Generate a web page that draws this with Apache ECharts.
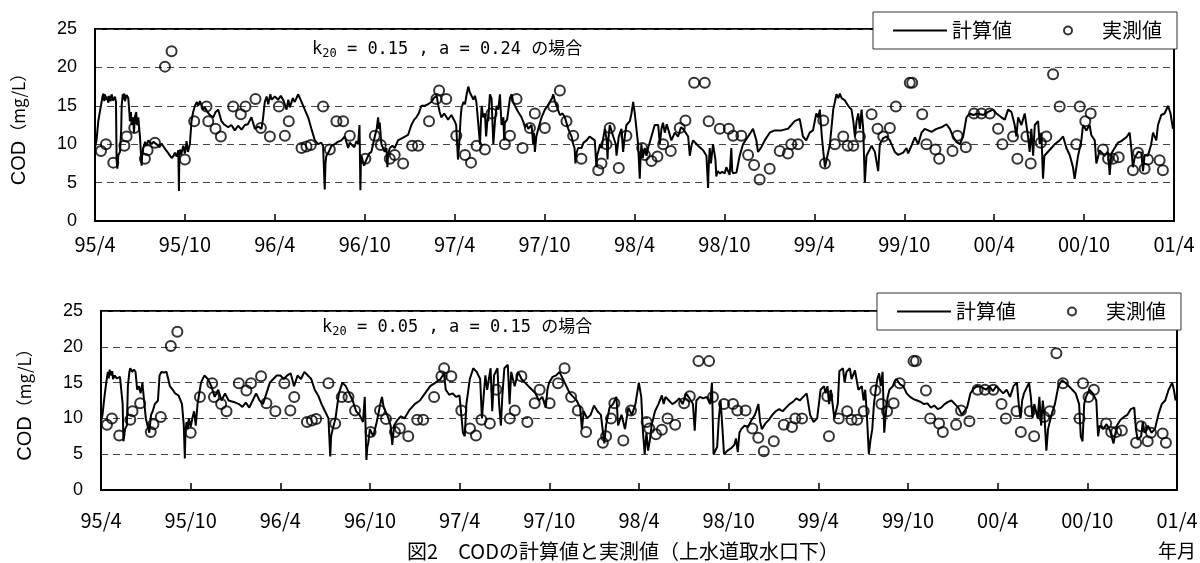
<!DOCTYPE html>
<html>
<head>
<meta charset="utf-8">
<script src="https://cdn.jsdelivr.net/npm/echarts@6/dist/echarts.min.js"></script>
<style>
html,body{margin:0;padding:0;background:#fff;}
#chart{width:1200px;height:563px;}
</style>
</head>
<body>
<div id="chart"></div>
<script>
// x values are months elapsed since 1995/4
const tickLabels = ['95/4','95/10','96/4','96/10','97/4','97/10','98/4','98/10','99/4','99/10','00/4','00/10','01/4'];

// 計算値 (k20=0.15, a=0.24)
const calcTop = [
[0,9.5],[0.1,10.5],[0.22,13],[0.35,14.5],[0.44,15.5],[0.5,16.2],[0.56,16.6],[0.62,15.6],[0.67,16.5],[0.72,15.8],[0.78,16.2],[0.89,15.4],[0.95,16.3],[1.05,15.6],[1.11,16.5],[1.2,15.7],[1.33,16.2],[1.4,15.5],[1.44,8.0],[1.49,6.8],[1.56,8.6],[1.67,9.0],[1.75,12],[1.78,15],[1.85,16.5],[1.89,15.8],[1.95,16.6],[2.0,15.6],[2.1,16.4],[2.22,16.0],[2.3,14],[2.33,13],[2.4,14.2],[2.44,12.5],[2.55,13.5],[2.6,11.5],[2.67,13.6],[2.75,14.2],[2.8,12.5],[2.89,13.5],[2.95,12],[3.0,11],[3.11,7.2],[3.15,8.5],[3.22,9.5],[3.35,10.3],[3.45,9.8],[3.56,10.5],[3.78,10.0],[3.9,10.3],[4.11,10.0],[4.3,9.6],[4.44,10.1],[4.67,9.4],[4.9,8.8],[5.11,8.2],[5.25,8.5],[5.33,8.9],[5.45,8.4],[5.56,9.2],[5.6,3.9],[5.63,8.5],[5.67,9.3],[5.75,8.6],[5.89,9.8],[6.0,8.8],[6.11,10.4],[6.2,9.0],[6.33,10.0],[6.44,13],[6.55,14.2],[6.67,15.0],[6.8,15.5],[6.89,15.0],[7.0,15.6],[7.11,15.4],[7.22,14.5],[7.33,14.8],[7.5,14.2],[7.67,13.8],[7.89,13.5],[8.05,14.2],[8.22,14.5],[8.44,13.0],[8.6,12.6],[8.89,12.2],[9.1,12.5],[9.33,11.8],[9.55,12.4],[9.78,11.9],[10.0,12.5],[10.2,12.6],[10.44,13.5],[10.67,12.0],[10.9,12.3],[11.11,12.0],[11.22,13.5],[11.33,15.5],[11.45,16.2],[11.56,15.2],[11.7,16.5],[11.78,15.8],[12.0,16.2],[12.22,15.8],[12.4,16.3],[12.6,15.6],[12.78,14.5],[12.9,15.8],[13.0,14.8],[13.2,16],[13.33,15.5],[13.56,16.5],[13.78,15.5],[14.0,14.5],[14.22,13.5],[14.44,12.0],[14.67,10.5],[14.89,10.0],[15.1,10.2],[15.22,9.8],[15.33,4.1],[15.38,7.5],[15.44,8.5],[15.6,9.0],[15.78,9.8],[16.0,10.0],[16.2,10.3],[16.44,10.5],[16.67,11.0],[16.89,9.5],[17.0,10.2],[17.11,10.0],[17.3,9.6],[17.45,10.4],[17.56,10.0],[17.65,12.5],[17.71,4.0],[17.74,7.5],[17.78,8.5],[17.95,7.2],[18.11,8.0],[18.3,8.8],[18.44,9.0],[18.67,11.0],[18.8,12.0],[18.89,13.5],[18.95,12.0],[19.0,12.8],[19.11,10.0],[19.33,9.0],[19.45,9.5],[19.51,7.0],[19.55,8.5],[19.67,9.5],[19.85,9.8],[20.0,9.5],[20.22,10.5],[20.5,10.8],[20.89,11.2],[21.11,12.5],[21.3,13.2],[21.44,13.5],[21.6,14.0],[21.78,15.0],[22.0,15.0],[22.22,15.2],[22.44,15.5],[22.6,16.0],[22.67,15.8],[22.8,16.3],[22.89,15.2],[23.0,14.2],[23.11,13.5],[23.3,14.0],[23.56,13.2],[23.78,13.8],[24.0,13.0],[24.1,12.5],[24.22,8.0],
[24.3,10.0],[24.4,13.5],[24.46,14.8],[24.6,15.5],[24.69,15.2],[24.8,16.5],[24.91,17.5],[25.0,16.8],[25.13,16.6],[25.25,15.8],[25.35,16.3],[25.45,15.5],[25.58,15.6],[25.69,10.0],[25.75,13],[25.8,15.0],[25.9,13.5],[26.02,14.0],[26.1,11.0],[26.2,13.5],[26.24,13.0],[26.35,16.5],[26.46,16.0],[26.55,11.5],[26.58,10.0],[26.69,13],[26.8,15.0],[26.91,14.5],[27.02,16.5],[27.1,13.5],[27.13,12.5],[27.25,13.5],[27.3,10.5],[27.35,12.8],[27.5,13.2],[27.58,13.0],[27.69,16.0],[27.8,16.5],[27.9,15.5],[28.02,15.0],[28.24,14.2],[28.46,13.5],[28.6,12.8],[28.69,12.2],[28.8,12.6],[28.91,12.0],[29.13,12.5],[29.24,10.0],[29.3,11.5],[29.35,9.0],[29.45,11],[29.58,12.0],[29.8,13.5],[30.02,14.5],[30.2,15.0],[30.35,15.5],[30.5,16.0],[30.58,16.5],[30.7,15.5],[30.8,15.0],[31.02,13.8],[31.2,14.0],[31.35,13.5],[31.58,12.0],[31.8,11.0],[31.91,10.0],[32.0,9.5],[32.06,7.5],[32.15,9.0],[32.24,9.5],[32.46,9.5],[32.6,10.2],[32.8,10.5],[33.0,11.0],[33.13,11.0],[33.35,10.5],[33.46,7.0],[33.5,8.5],[33.58,9.0],[33.7,10.0],[33.8,9.5],[34.02,12.0],[34.15,10.5],[34.2,8.0],[34.25,10.5],[34.35,12.5],[34.58,11.0],[34.75,10],[34.8,8.5],[34.95,11.0],[35.13,12.0],[35.24,9.0],[35.35,11],[35.46,12.5],[35.69,13.0],[35.8,14],[35.91,15.5],[36.02,14.0],[36.13,12.0],[36.24,10.0],[36.35,5.5],[36.4,8.0],[36.46,10.0],[36.55,8.2],[36.69,9.5],[36.8,8.5],[36.91,9.5],[37.13,11.0],[37.35,12.5],[37.58,12.5],[37.69,10.0],[37.8,12.0],[37.9,12.8],[38.02,11.5],[38.15,12.6],[38.24,12.0],[38.46,10.5],[38.69,11.5],[38.91,11.0],[39.1,12.2],[39.24,12.0],[39.58,11.0],[39.69,8.5],[39.8,9.8],[39.91,10.5],[40.24,9.8],[40.58,9.2],[40.8,8.5],[40.91,4.3],[40.95,7.0],[41.02,9.5],[41.1,7.5],[41.24,10.0],[41.4,8.0],[41.46,5.8],[41.55,6.5],[41.69,6.2],[41.85,6.4],[42.02,6.2],[42.13,7.0],[42.35,6.0],[42.46,9.5],[42.52,6.5],[42.58,6.2],[42.8,6.3],[43.02,8.5],[43.24,10.0],[43.58,11.0],[43.91,12.0],[44.13,10.5],[44.24,9.0],[44.46,9.6],[44.69,10.5],[45.02,11.5],[45.35,11.8],[45.8,11.8],[46.24,12.0],[46.46,12.5],[46.69,13.0],[47.02,13.3],[47.1,12.5],[47.24,11.0],[47.46,10.5],[47.69,11.5],[47.91,11.8],[48.13,14.0],[48.25,13.5],
[48.37,14.5],[48.5,11],[48.6,9.0],[48.71,7.0],[48.82,7.2],[49.04,10.0],[49.26,14.5],[49.48,16.5],[49.6,16.0],[49.7,16.6],[49.82,16.0],[50.04,15.7],[50.26,15.0],[50.48,14.5],[50.6,13.0],[50.71,11.0],[50.82,13.0],[50.93,14.0],[51.04,12.0],[51.15,14.5],[51.26,12.0],[51.37,5.0],[51.48,8.5],[51.6,8.5],[51.82,9.8],[52.04,9.0],[52.26,6.5],[52.37,10.0],[52.6,10.8],[52.82,11.0],[53.04,10.5],[53.37,9.0],[53.6,8.6],[53.93,8.9],[54.15,9.5],[54.26,8.8],[54.48,9.8],[54.71,10.9],[54.93,10.0],[55.15,11.5],[55.37,12.0],[55.6,11.8],[55.82,11.6],[56.15,12.0],[56.48,12.2],[56.82,12.6],[57.04,12.0],[57.26,11.0],[57.48,10.3],[57.71,10.0],[57.93,11.0],[58.15,13.5],[58.37,14.0],[58.6,13.8],[58.93,14.0],[59.26,13.8],[59.6,14.2],[59.93,14.5],[60.15,14.0],[60.48,13.5],[60.71,13.2],[60.93,14.5],[61.15,14.2],[61.37,12.5],[61.48,11.0],[61.6,13.5],[61.82,12.5],[62.04,14.0],[62.26,11.0],[62.37,9.0],[62.48,12.0],[62.6,8.5],[62.71,12.5],[62.93,13.0],[63.04,10.0],[63.15,11.5],[63.26,5.5],[63.35,8.5],[63.48,8.5],[63.82,9.5],[64.04,10.0],[64.37,10.5],[64.6,11.0],[64.82,9.5],[65.04,8.6],[65.26,7.0],[65.37,5.5],[65.6,8.5],[65.82,10.5],[65.93,12.5],[66.15,11.8],[66.37,12.5],[66.48,11.2],[66.71,10.5],[66.82,7.5],[67.04,9.2],[67.37,8.5],[67.6,9.0],[67.71,6.0],[67.82,8.8],[68.04,9.5],[68.26,10.2],[68.48,10.4],[68.82,10.9],[69.04,11.5],[69.15,9.5],[69.26,7.0],[69.37,8.2],[69.6,9.0],[69.82,8.9],[69.93,6.5],[70.04,8.6],[70.26,8.5],[70.48,10.0],[70.6,11.5],[70.82,10.5],[70.93,12.5],[71.15,13.8],[71.37,14.0],[71.6,15.0],[71.77,14.0],[71.93,12.0]
];

// 計算値 (k20=0.05, a=0.15)
const calcBottom = [
[0,9.5],[0.1,10.5],[0.23,13.0],[0.35,15.0],[0.46,16.5],[0.52,15.6],[0.58,16.8],[0.69,16.0],[0.75,16.6],[0.81,15.5],[0.92,16.0],[1.05,15.6],[1.15,15.5],[1.27,15.8],[1.38,16.0],[1.45,12],[1.5,6.8],[1.61,8.5],[1.73,9.0],[1.8,14.5],[1.9,16.5],[1.96,17.0],[2.08,16.5],[2.2,16.8],[2.31,16.5],[2.42,14.0],[2.54,14.5],[2.65,13.5],[2.77,15.0],[2.88,12.5],[3.0,10.0],[3.23,8.0],[3.35,10.5],[3.46,11.0],[3.6,12.0],[3.81,12.5],[3.92,16.0],[4.04,16.5],[4.2,16.4],[4.38,16.5],[4.5,15.5],[4.61,14.5],[4.8,14.0],[4.96,13.5],[5.19,13.2],[5.31,13.0],[5.42,12.0],[5.54,9.0],[5.61,4.4],[5.65,8.0],[5.72,9.5],[5.8,8.5],[5.88,10.0],[6.0,8.8],[6.11,10.0],[6.23,11.0],[6.34,9.0],[6.46,12.0],[6.69,15.0],[6.92,16.0],[7.15,15.5],[7.38,14.5],[7.61,13.0],[7.84,14.0],[8.07,12.5],[8.3,13.5],[8.54,12.5],[8.88,12.3],[9.23,12.0],[9.46,11.6],[9.69,12.2],[9.92,11.5],[10.15,12.5],[10.38,13.5],[10.61,12.5],[10.84,12.0],[11.07,13.5],[11.3,15.0],[11.53,15.5],[11.76,16.0],[12.0,16.0],[12.23,15.5],[12.46,16.0],[12.69,16.3],[12.92,14.5],[13.15,16.0],[13.38,15.5],[13.61,16.5],[13.84,16.0],[14.07,15.5],[14.3,14.0],[14.53,13.2],[14.76,12.0],[14.99,11.0],[15.22,10.0],[15.34,4.7],[15.4,7.5],[15.5,8.5],[15.69,10.0],[15.92,13.5],[16.15,15.0],[16.38,14.5],[16.61,13.5],[16.84,12.5],[17.07,11.0],[17.3,10.5],[17.53,9.5],[17.65,13.0],[17.76,4.2],[17.82,6.0],[17.88,6.5],[17.99,8.5],[18.22,7.5],[18.45,9.5],[18.69,12.0],[18.8,13.0],[18.92,11.5],[19.15,10.5],[19.38,9.0],[19.49,6.3],[19.61,9.0],[19.84,9.8],[20.07,10.3],[20.3,10.0],[20.65,11.2],[20.99,12.0],[21.34,12.5],[21.68,13.5],[22.03,14.5],[22.38,15.0],[22.72,15.5],[22.95,16.3],[23.07,14.0],[23.3,13.3],[23.53,13.5],[23.76,13.0],[23.99,13.2],[24.11,13.0],[24.22,8.0],[24.34,7.5],[24.45,12.0],[24.68,15.5],[24.91,17.0],[25.14,16.5],[25.37,15.5],[25.49,10.0],[25.6,13],[25.72,16.0],[25.84,14.0],[26.07,17.0],[26.18,11.0],[26.3,16.0],[26.53,17.0],[26.64,12.0],[26.76,9.0],[26.85,13],[26.99,17.0],[27.22,17.5],[27.34,12.0],[27.45,16.5],[27.68,14.5],[27.91,16.5],[28.14,15.5],[28.37,15.0],[28.6,14.5],[28.84,14.0],[29.07,13.5],[29.3,12.5],[29.53,13.0],[29.76,11.5],[29.87,14.0],[29.99,15.0],[30.22,15.8],[30.45,16.0],[30.68,16.5],[30.91,15.5],[31.14,14.5],[31.37,13.5],[31.6,13.0],[31.83,12.5],[32.06,11.5],[32.18,8.5],[32.3,11.0],[32.53,10.0],[32.76,10.5],[32.99,11.8],[33.22,11.0],[33.45,10.5],[33.68,6.5],[33.79,9.0],[34.03,11.5],[34.26,12.0],[34.49,13.0],[34.6,9.0],[34.83,10.5],[35.06,8.5],[35.29,11.5],[35.52,10.5],[35.76,12.0],[35.99,15.0],
[36.15,13.0],[36.27,8.0],[36.38,5.0],[36.5,8.0],[36.61,5.5],[36.73,7.0],[36.84,9.0],[37.07,11.0],[37.3,12.0],[37.53,13.2],[37.65,12.0],[37.77,13.0],[38.0,12.5],[38.23,12.0],[38.46,12.3],[38.69,12.8],[38.92,12.0],[39.15,13.5],[39.38,12.8],[39.61,12.0],[39.73,8.3],[39.84,12.5],[40.07,13.0],[40.3,12.8],[40.53,13.0],[40.76,12.0],[40.88,15.0],[40.99,5.0],[41.11,5.2],[41.23,6.0],[41.34,10.0],[41.46,12.5],[41.57,9.0],[41.69,5.0],[41.8,4.9],[41.92,5.5],[42.15,5.8],[42.38,6.3],[42.49,7.2],[42.61,5.3],[42.72,8.0],[42.84,8.5],[43.07,9.0],[43.3,8.8],[43.53,9.8],[43.76,10.5],[43.99,12.0],[44.11,9.5],[44.22,8.5],[44.46,9.3],[44.69,9.8],[44.92,10.5],[45.15,11.0],[45.38,11.3],[45.61,11.0],[45.84,11.5],[46.07,12.0],[46.3,12.3],[46.53,12.8],[46.76,12.5],[46.99,13.0],[47.22,13.5],[47.45,10.5],[47.68,9.5],[47.92,10.0],[48.15,14.0],[48.38,14.5],[48.49,13.5],[48.61,14.5],[48.72,12.0],[48.84,14.0],[49.07,10.0],[49.3,12.0],[49.41,16.6],[49.65,17.0],[49.76,15.0],[49.88,16.5],[50.11,17.0],[50.22,15.5],[50.45,16.7],[50.68,14.0],[50.91,14.5],[51.03,12.5],[51.14,14.0],[51.26,10.0],[51.38,5.0],[51.49,7.0],[51.61,8.5],[51.72,12.0],[51.84,14.0],[51.95,15.5],[52.07,16.3],[52.18,14.5],[52.3,16.5],[52.41,8.0],[52.53,11.0],[52.64,13.0],[52.76,14.0],[52.99,14.5],[53.11,15.2],[53.22,15.5],[53.45,14.8],[53.68,14.5],[53.91,13.5],[54.14,13.0],[54.37,12.7],[54.61,12.5],[54.84,12.3],[55.07,12.0],[55.3,12.1],[55.53,11.5],[55.76,11.8],[55.99,11.3],[56.22,11.5],[56.45,12.0],[56.68,12.3],[56.91,12.5],[57.14,12.0],[57.37,11.5],[57.6,10.5],[57.72,10.3],[57.95,11.5],[58.18,13.5],[58.41,14.2],[58.64,14.5],[58.99,14.3],[59.22,14.0],[59.45,14.5],[59.68,13.8],[59.91,14.5],[60.14,14.0],[60.37,13.5],[60.6,14.0],[60.83,13.0],[61.06,14.5],[61.29,15.0],[61.41,12.0],[61.53,10.0],[61.64,12.5],[61.76,13.5],[61.99,14.5],[62.1,15.0],[62.22,13.0],[62.33,10.0],[62.45,12.0],[62.68,10.0],[62.79,13.0],[62.91,9.0],[63.02,12.5],[63.14,10.0],[63.26,5.5],[63.37,8.5],[63.6,10.5],[63.83,12.0],[64.06,14.5],[64.29,15.3],[64.52,15.0],[64.76,14.5],[64.99,14.0],[65.22,13.5],[65.45,12.0],[65.56,7.5],[65.68,6.8],[65.79,12.0],[65.91,13.0],[66.14,14.0],[66.37,13.5],[66.6,12.5],[66.72,7.5],[66.83,9.0],[67.06,8.5],[67.29,9.2],[67.52,8.3],[67.75,6.5],[67.98,9.0],[68.22,9.8],[68.45,10.2],[68.68,10.5],[68.91,11.3],[69.14,11.5],[69.25,8.5],[69.37,7.0],[69.6,7.5],[69.71,9.5],[69.83,8.0],[70.06,9.0],[70.29,8.0],[70.52,8.5],[70.75,10.5],[70.98,12.0],[71.21,12.5],[71.44,14.0],[71.68,15.0],[71.79,14.0],[71.91,12.5]
];

// 実測値 (same observations in both panels)
const measured = [
[0.40,9.1],[0.73,10.0],[1.22,7.6],[1.96,9.8],[2.11,11.0],[2.62,12.1],[3.33,8.1],[3.51,9.2],[4.0,10.2],[4.67,20.1],[5.11,22.1],[6.0,8.0],[6.62,13.0],[7.44,14.9],[7.56,13.0],[8.04,12.0],[8.4,11.0],[9.22,14.9],[9.73,13.9],[10.04,14.9],[10.71,15.9],[11.07,12.1],[11.67,11.0],[12.27,14.9],[12.67,11.1],[12.93,13.0],[13.78,9.5],[14.11,9.7],[14.4,9.9],[15.22,14.9],[15.67,9.3],[16.11,13.0],[16.56,13.0],[17.0,11.1],[18.04,8.1],[18.67,11.1],[19.07,9.9],[19.67,8.1],[20.0,8.6],[20.56,7.5],[21.16,9.8],[21.56,9.8],[22.29,13.0],[22.78,15.9],[22.96,17.0],[23.44,15.9],[24.11,11.1],[24.69,8.6],[25.09,7.6],[25.46,9.8],[26.02,9.3],[26.46,14.0],[27.35,10.0],[27.69,11.1],[28.13,15.9],[28.53,9.5],[29.02,12.1],[29.35,14.0],[30.02,12.1],[30.58,14.9],[31.02,17.0],[31.46,13.0],[31.91,11.1],[32.46,8.1],[33.58,6.6],[33.8,7.5],[34.13,10.0],[34.35,12.1],[34.95,6.9],[35.46,11.1],[36.51,9.5],[36.69,8.6],[37.13,7.8],[37.53,8.4],[37.91,10.0],[38.42,9.1],[39.02,12.1],[39.4,13.1],[39.98,18.0],[40.69,18.0],[40.95,13.0],[41.69,12.0],[42.29,12.0],[42.58,11.1],[43.13,11.1],[43.58,8.6],[43.98,7.3],[44.35,5.4],[45.02,6.8],[45.69,9.1],[46.24,8.8],[46.46,10.0],[46.91,10.0],[48.6,13.1],[48.71,7.5],[49.37,10.0],[49.93,11.0],[50.22,9.8],[50.6,9.8],[51.04,11.0],[51.82,13.9],[52.22,12.0],[52.6,11.0],[53.04,12.1],[53.44,14.9],[54.37,18.0],[54.53,18.0],[55.2,13.9],[55.48,10.0],[56.08,9.3],[56.33,8.1],[57.22,9.1],[57.55,11.1],[58.11,9.6],[58.66,14.0],[59.15,14.0],[59.71,14.0],[60.26,12.0],[60.55,10.0],[61.26,11.0],[61.55,8.1],[62.15,11.0],[62.44,7.5],[63.11,10.2],[63.48,11.0],[63.93,19.1],[64.37,14.9],[65.48,10.0],[65.71,14.9],[66.08,13.0],[66.44,14.0],[67.26,9.3],[67.6,8.1],[67.93,8.1],[68.31,8.3],[69.26,6.6],[69.6,8.9],[70.04,6.8],[70.26,8.0],[71.04,7.9],[71.26,6.6]
];

const seriesNames = ['計算値', '実測値'];
const annotations = ['{k|k}{s|20}{t| = 0.15 , a = 0.24 の場合}', '{k|k}{s|20}{t| = 0.05 , a = 0.15 の場合}'];
const figTitle = '図2　CODの計算値と実測値（上水道取水口下）';
const xUnit = '年月';

const jp = "'Noto Sans CJK JP', sans-serif";
const mono = "'DejaVu Sans Mono', 'Noto Sans CJK JP', monospace";
const sans = "'Liberation Sans', Arial, sans-serif";

const chart = echarts.init(document.getElementById('chart'), null, {renderer: 'canvas'});

function grid(left, top, width, height) {
  return {left, top, width, height, show: true, borderColor: '#000', borderWidth: 2,
          backgroundColor: 'transparent', containLabel: false, outerBoundsMode: 'none'};
}
function xAxis(idx, margin) {
  return {
    type: 'value', gridIndex: idx, min: 0, max: 72, interval: 6,
    axisLine: {show: true, lineStyle: {color: '#000', width: 2}},
    axisTick: {show: true, inside: true, length: 7, lineStyle: {color: '#000', width: 1.5}},
    splitLine: {show: false},
    axisLabel: {margin, color: '#000', fontSize: 20, fontFamily: jp,
                formatter: v => tickLabels[Math.round(v / 6)]}
  };
}
function yAxis(idx) {
  return {
    type: 'value', gridIndex: idx, min: 0, max: 25, interval: 5,
    axisLine: {show: true, lineStyle: {color: '#000', width: 2}},
    axisTick: {show: false},
    splitLine: {show: true, lineStyle: {color: '#444', width: 1, type: [7, 5]}},
    axisLabel: {margin: 18, color: '#000', fontSize: 18, fontFamily: sans},
    name: '{a|COD}{b|（mg/L）}', nameLocation: 'middle', nameGap: 66, nameRotate: 90,
    nameTextStyle: {color: '#000', rich: {
      a: {fontSize: 20, fontFamily: sans, color: '#000'},
      b: {fontSize: 17, fontFamily: jp, color: '#000'}
    }}
  };
}
function legend(left, top) {
  return {
    left, top, orient: 'horizontal', itemWidth: 54, itemHeight: 8, itemGap: 51,
    padding: [8, 15, 8, 20], borderColor: '#333', borderWidth: 1, backgroundColor: '#fff',
    borderRadius: 0, symbolKeepAspect: true,
    textStyle: {fontSize: 20, fontFamily: jp, color: '#000', lineHeight: 21},
    data: [
      {name: seriesNames[0], icon: 'path://M0,0L54,0L54,1.8L0,1.8Z'},
      {name: seriesNames[1], icon: 'circle', textStyle: {padding: [0, 0, 0, 2]}}
    ],
    selectedMode: false
  };
}
function lineSeries(idx, data) {
  return {name: seriesNames[0], type: 'line', xAxisIndex: idx, yAxisIndex: idx, data,
          symbol: 'none', showSymbol: false, smooth: false, z: 2,
          lineStyle: {color: '#000', width: 2}, itemStyle: {color: '#000'}};
}
function scatterSeries(idx, data) {
  return {name: seriesNames[1], type: 'scatter', xAxisIndex: idx, yAxisIndex: idx, data,
          symbol: 'circle', symbolSize: 10, z: 3,
          itemStyle: {color: 'rgba(255,255,255,0)', borderColor: '#000', borderWidth: 2}};
}
const richAnno = {
  k: {fontSize: 17, fontFamily: mono, color: '#000', lineHeight: 20},
  s: {fontSize: 12, fontFamily: mono, color: '#000', lineHeight: 10, verticalAlign: 'bottom'},
  t: {fontSize: 17, fontFamily: mono, color: '#000', lineHeight: 20}
};

chart.setOption({
  animation: false,
  backgroundColor: '#fff',
  grid: [grid(95, 29, 1079, 192), grid(101, 311, 1076, 179)],
  xAxis: [xAxis(0, 13), xAxis(1, 20)],
  yAxis: [yAxis(0), yAxis(1)],
  legend: [legend(873, 12), legend(877, 293)],
  series: [lineSeries(0, calcTop), scatterSeries(0, measured),
           lineSeries(1, calcBottom), scatterSeries(1, measured)],
  graphic: [
    {type: 'text', x: 312, y: 40, z: 10, style: {text: annotations[0], rich: richAnno}},
    {type: 'text', x: 322, y: 318, z: 10, style: {text: annotations[1], rich: richAnno}},
    {type: 'text', x: 623, y: 551, z: 10, style: {text: figTitle, fontSize: 20, fontFamily: jp,
      fill: '#000', align: 'center', verticalAlign: 'middle'}},
    {type: 'text', x: 1196, y: 551, z: 10, style: {text: xUnit, fontSize: 19, fontFamily: jp,
      fill: '#000', align: 'right', verticalAlign: 'middle'}}
  ]
});
</script>
</body>
</html>
